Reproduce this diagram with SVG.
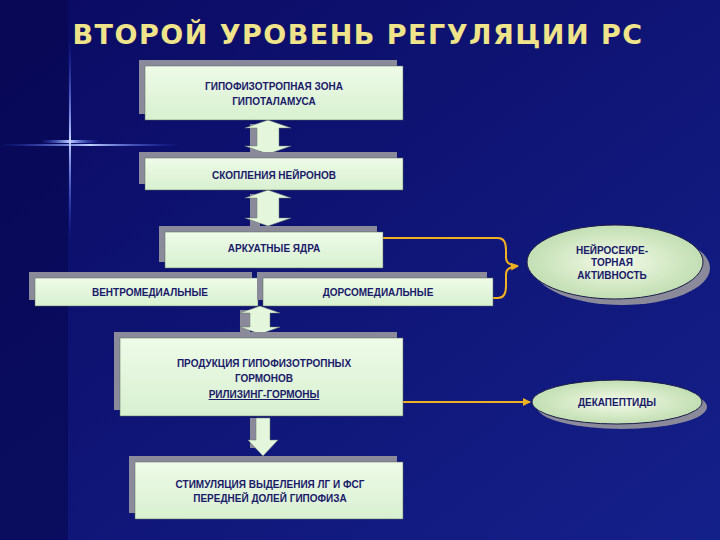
<svg xmlns="http://www.w3.org/2000/svg" width="720" height="540" viewBox="0 0 720 540">
<defs>
<linearGradient id="bg" x1="0" y1="0" x2="1" y2="1"><stop offset="0" stop-color="#0a0a62"/><stop offset="1" stop-color="#14208a"/></linearGradient>
<linearGradient id="bx" x1="0" y1="0" x2="0" y2="1"><stop offset="0" stop-color="#eefbe8"/><stop offset="1" stop-color="#d8f0d0"/></linearGradient>
<radialGradient id="el" cx="0.5" cy="0.5" r="0.6"><stop offset="0" stop-color="#f4fbe8"/><stop offset="1" stop-color="#b8d8a8"/></radialGradient>
<linearGradient id="star" x1="0" x2="1"><stop offset="0" stop-color="#3050ff" stop-opacity="0"/><stop offset="0.5" stop-color="#c0d0ff"/><stop offset="1" stop-color="#3050ff" stop-opacity="0"/></linearGradient>
<linearGradient id="starv" x1="0" y1="0" x2="0" y2="1"><stop offset="0" stop-color="#3050ff" stop-opacity="0"/><stop offset="0.5" stop-color="#c0d0ff"/><stop offset="1" stop-color="#3050ff" stop-opacity="0"/></linearGradient>
<marker id="ah" markerWidth="8" markerHeight="8" refX="7" refY="4" orient="auto" markerUnits="userSpaceOnUse"><path d="M0,0 L8,4 L0,8 Z" fill="#f0b020"/></marker>
</defs>
<style>
.sh{fill:#8a8a9a}
.b{fill:url(#bx);stroke:#5a6a5a;stroke-width:0.5}
.t{font-family:"Liberation Sans",Arial,sans-serif;font-weight:bold;fill:#1a1a6a;text-anchor:middle;font-size:10px}
.c{fill:none;stroke:#f0b020;stroke-width:2}
.da{fill:#e4f6dc;stroke:#6a7a6a;stroke-width:0.5}
</style>
<rect width="720" height="540" fill="url(#bg)"/>
<rect x="0" y="0" width="68" height="540" fill="#06064e" opacity="0.6"/>
<rect x="40" y="140" width="60" height="3" fill="url(#star)"/>
<rect x="0" y="144" width="180" height="2" fill="url(#star)"/>
<rect x="69" y="40" width="2" height="200" fill="url(#starv)"/>
<text x="358" y="44" font-family="'DejaVu Sans',sans-serif" font-weight="bold" font-size="27" fill="#f0e48a" text-anchor="middle" letter-spacing="1.5">ВТОРОЙ УРОВЕНЬ РЕГУЛЯЦИИ  РС</text>

<g id="connectors">
<g><rect x="250" y="124" width="10" height="30" class="sh"/><path d="M257,120 L280,128 L268,128 L268,146 L280,146 L257,154 L234,146 L246,146 L246,128 L234,128 Z" transform="translate(11,0)" class="da"/></g>
<g><rect x="250" y="194" width="10" height="32" class="sh"/><path d="M257,190 L280,198 L268,198 L268,218 L280,218 L257,226 L234,218 L246,218 L246,198 L234,198 Z" transform="translate(11,0)" class="da"/></g>
<g><rect x="240" y="310" width="10" height="24" class="sh"/><path d="M260,306 L280,313 L270,313 L270,327 L280,327 L260,334 L240,327 L250,327 L250,313 L240,313 Z" class="da"/></g>
<g><rect x="250" y="418" width="10" height="30" class="sh"/><path d="M256,418 L270,418 L270,440 L278,440 L263,456 L248,440 L256,440 Z" class="da"/></g>
<path class="c" d="M383,238 L498,238 Q506,238 506,250 L506,258 Q506,265 518,266 M493,298 L498,298 Q506,298 506,286 L506,274 Q506,267 518,266" marker-end="url(#ah)"/>
<path class="c" d="M403,402 L530,402" marker-end="url(#ah)"/>
</g>

<g id="n1"><rect x="139" y="60" width="258" height="54" class="sh"/><rect x="145" y="66" width="258" height="54" class="b"/>
<text class="t" x="274" y="90">ГИПОФИЗОТРОПНАЯ ЗОНА</text><text class="t" x="274" y="105">ГИПОТАЛАМУСА</text></g>
<g id="n2"><rect x="139" y="152" width="258" height="32" class="sh"/><rect x="145" y="158" width="258" height="32" class="b"/>
<text class="t" x="274" y="179">СКОПЛЕНИЯ НЕЙРОНОВ</text></g>
<g id="n3"><rect x="159" y="226" width="218" height="36" class="sh"/><rect x="165" y="232" width="218" height="36" class="b"/>
<text class="t" x="274" y="252">АРКУАТНЫЕ ЯДРА</text></g>
<g id="n4"><rect x="29" y="272" width="223" height="28" class="sh"/><rect x="35" y="278" width="223" height="28" class="b"/>
<text class="t" x="150" y="296">ВЕНТРОМЕДИАЛЬНЫЕ</text></g>
<g id="n5"><rect x="257" y="272" width="230" height="28" class="sh"/><rect x="263" y="278" width="230" height="28" class="b"/>
<text class="t" x="378" y="296">ДОРСОМЕДИАЛЬНЫЕ</text></g>
<g id="n6"><rect x="114" y="332" width="283" height="78" class="sh"/><rect x="120" y="338" width="283" height="78" class="b"/>
<text class="t" x="264" y="367" font-size="12">ПРОДУКЦИЯ ГИПОФИЗОТРОПНЫХ</text><text class="t" x="264" y="382">ГОРМОНОВ</text>
<text class="t" x="264" y="398" font-size="12" text-decoration="underline">РИЛИЗИНГ-ГОРМОНЫ</text></g>
<g id="n7"><rect x="129" y="456" width="268" height="57" class="sh"/><rect x="135" y="462" width="268" height="57" class="b"/>
<text class="t" x="270" y="488">СТИМУЛЯЦИЯ ВЫДЕЛЕНИЯ ЛГ И ФСГ</text><text class="t" x="270" y="502">ПЕРЕДНЕЙ ДОЛЕЙ ГИПОФИЗА</text></g>
<g id="n8"><ellipse cx="622" cy="268" rx="88" ry="37" class="sh"/><ellipse cx="615" cy="262" rx="88" ry="37" fill="url(#el)" stroke="#1a1a4a" stroke-width="1"/>
<text class="t" x="612" y="254" font-size="9">НЕЙРОСЕКРЕ-</text><text class="t" x="612" y="266" font-size="9">ТОРНАЯ</text><text class="t" x="612" y="279" font-size="9">АКТИВНОСТЬ</text></g>
<g id="n9"><ellipse cx="622" cy="407" rx="85" ry="22" class="sh"/><ellipse cx="617" cy="402" rx="85" ry="22" fill="url(#el)" stroke="#1a1a4a" stroke-width="1"/>
<text class="t" x="617" y="406" font-size="9">ДЕКАПЕПТИДЫ</text></g>
</svg>
